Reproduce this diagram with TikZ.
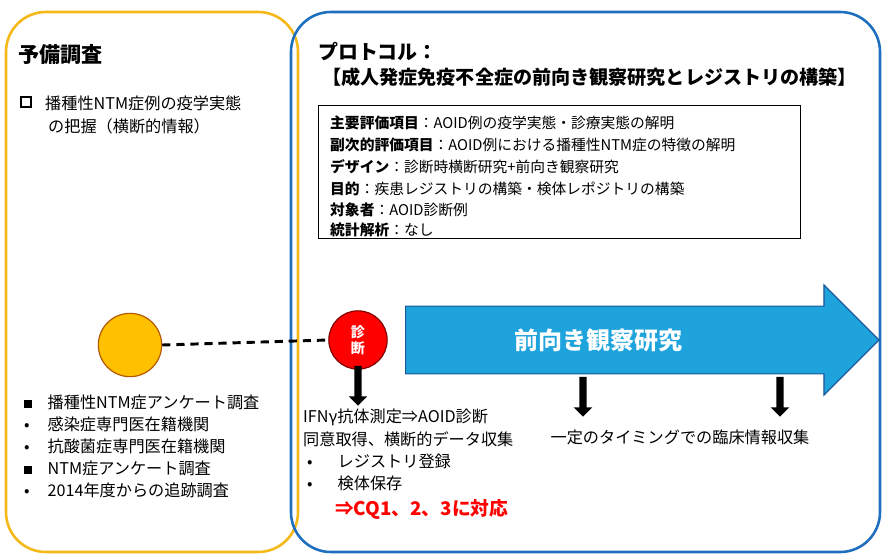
\documentclass[tikz,border=0pt]{standalone}
\usepackage{fontspec}
\setmainfont{Noto Sans CJK JP}
\usetikzlibrary{positioning,shapes.arrows}
\definecolor{frameorange}{HTML}{F5B818}
\definecolor{frameblue}{HTML}{1F6FC0}
\definecolor{arrowblue}{HTML}{1FA3DC}
\definecolor{dotorange}{HTML}{FFC000}
\tikzset{
  frame/.style={rounded corners=34pt, line width=2.2pt},
  txt/.style={anchor=west, inner sep=0pt, font=\fontsize{13.8}{15}\selectfont},
  boxtxt/.style={anchor=west, inner sep=0pt, font=\fontsize{12.6}{14}\selectfont},
  downarrow/.style={single arrow, draw=none, fill=black, minimum width=16pt,
    single arrow head extend=2pt, single arrow head indent=0pt, minimum height=34pt,
    shape border rotate=270, inner sep=1pt}
}
\begin{document}
\begin{tikzpicture}[x=0.03cm,y=-0.03cm]
    \useasboundingbox (0,0) rectangle (886,560);

    % the two frames
    \draw[frame, frameorange] (6,12) rectangle (298,552);
    \draw[frame, frameblue] (291,12) rectangle (880,552);

    % left column: preliminary survey
    \node[txt, font=\fontsize{18}{20}\selectfont\bfseries] (pre) at (18,55) {予備調査};
    \draw[line width=1.4pt] (21,97) rectangle (31,107);
    \node[txt] (pre1) at (45,103) {播種性NTM症例の疫学実態};
    \node[txt] (pre2) at (48,126) {の把握（横断的情報）};

    \foreach \y/\mk/\t in {402/{\rule{6.5pt}{6.5pt}}/播種性NTM症アンケート調査,
                          424/{•}/感染症専門医在籍機関,
                          446/{•}/抗酸菌症専門医在籍機関,
                          468/{\rule{6.5pt}{6.5pt}}/NTM症アンケート調査,
                          490/{•}/2014年度からの追跡調査}
        \node[txt] at (24,\y) {\makebox[20pt][l]{\mk}\t};

    % protocol title and summary box
    \node[txt, font=\fontsize{17}{20}\selectfont\bfseries] (proto) at (318,52) {プロトコル：};
    \node[txt, font=\fontsize{16.3}{19}\selectfont\bfseries] (title) at (322,77) {【成人発症免疫不全症の前向き観察研究とレジストリの構築】};
    \draw[thin] (318,105) rectangle (800,238);
    \node[boxtxt] at (330,123) {\textbf{主要評価項目}：AOID例の疫学実態・診療実態の解明};
    \node[boxtxt] at (330,145) {\textbf{副次的評価項目}：AOID例における播種性NTM症の特徴の解明};
    \node[boxtxt] at (330,167) {\textbf{デザイン}：診断時横断研究+前向き観察研究};
    \node[boxtxt] at (330,189) {\textbf{目的}：疾患レジストリの構築・検体レポジトリの構築};
    \node[boxtxt] at (330,210) {\textbf{対象者}：AOID診断例};
    \node[boxtxt] at (330,230) {\textbf{統計解析}：なし};

    % timeline
    \node[circle, draw=orange!70!black, fill=dotorange, line width=1pt, minimum size=1.9cm, inner sep=0pt] (start) at (130,345) {};
    \node[circle, draw=red!50!black, fill=red, line width=1pt, minimum size=1.75cm, inner sep=0pt,
          text=white, font=\fontsize{12}{14}\selectfont\bfseries, align=center] (diag) at (358,340) {診\\断};
    \draw[line width=2.5pt, dash pattern=on 7pt off 5pt] (start.east) -- (diag.west);

    \node[single arrow, draw=frameblue!80!black, fill=arrowblue, line width=1pt,
          minimum width=3.3cm, minimum height=14.2cm, single arrow head extend=0.3cm,
          single arrow head indent=0pt, text=white, font=\fontsize{20.5}{24}\selectfont\bfseries,
          anchor=west] (follow) at (405,340) {\hspace{-1.6cm}前向き観察研究};

    \node[downarrow] (d1) at (358,384) {};
    \node[downarrow] (d2) at (583,395) {};
    \node[downarrow] (d3) at (780,395) {};

    \node[txt] (m1) at (303,417) {IFNγ抗体測定⇒AOID診断};
    \node[txt] (m2) at (303,439) {同意取得、横断的データ収集};
    \node[txt] (m3) at (307,461) {\makebox[26pt][l]{•}レジストリ登録};
    \node[txt] (m4) at (307,483) {\makebox[26pt][l]{•}検体保存};
    \node[txt, text=red, font=\fontsize{16}{18}\selectfont\bfseries] (cq) at (335,509) {⇒CQ1、2、3に対応};

    \node[font=\fontsize{13.8}{15}\selectfont, inner sep=0pt] (follow-text) at (680,437) {一定のタイミングでの臨床情報収集};
\end{tikzpicture}
\end{document}
